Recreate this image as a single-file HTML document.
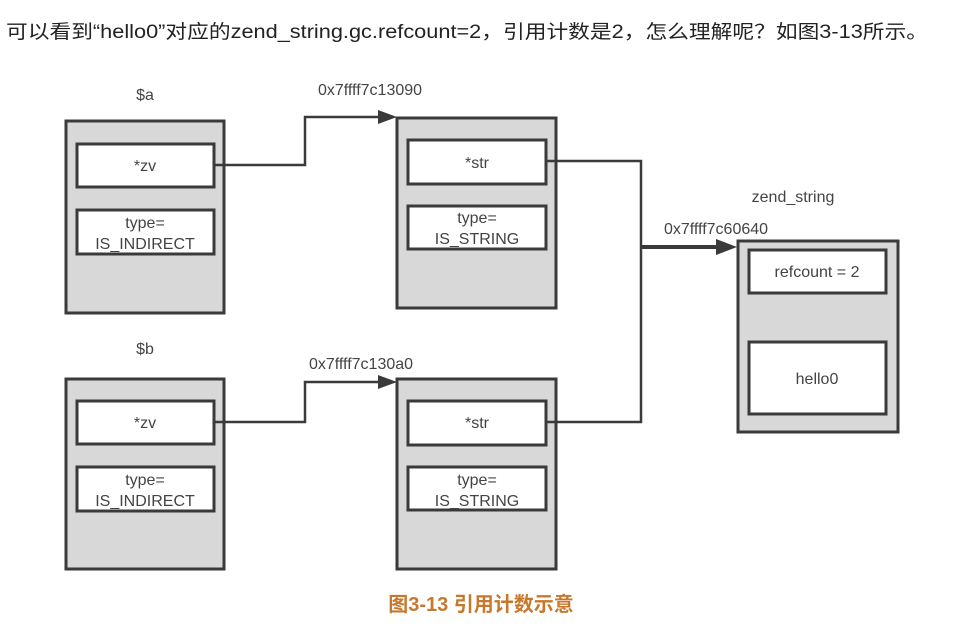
<!DOCTYPE html>
<html><head><meta charset="utf-8"><style>
body{margin:0;background:#fff;width:961px;height:630px;overflow:hidden}
svg{display:block}
.t{font-family:"Liberation Sans",sans-serif;fill:#444;font-size:16px;text-anchor:middle}
.o{fill:#d8d8d8;stroke:#3a3a3a;stroke-width:3}
.i{fill:#fff;stroke:#3a3a3a;stroke-width:3}
.l{fill:none;stroke:#3a3a3a;stroke-width:2.5}
</style></head><body>
<svg width="961" height="630" xmlns="http://www.w3.org/2000/svg">
<text x="6" y="38" textLength="922" lengthAdjust="spacingAndGlyphs" style="font-family:'Liberation Sans','Noto Sans CJK SC',sans-serif;font-size:19px;fill:#222">可以看到“hello0”对应的zend_string.gc.refcount=2，引用计数是2，怎么理解呢？如图3-13所示。</text>
<text class="t" x="145" y="100">$a</text>
<rect class="o" x="66" y="121" width="158" height="192"/>
<rect class="i" x="77" y="144" width="137" height="43"/>
<text class="t" x="145" y="171">*zv</text>
<rect class="i" x="77" y="210" width="137" height="44"/>
<text class="t" x="145" y="228">type=</text>
<text class="t" x="145" y="249">IS_INDIRECT</text>
<text class="t" x="145" y="354">$b</text>
<rect class="o" x="66" y="379" width="158" height="190"/>
<rect class="i" x="77" y="401" width="137" height="43"/>
<text class="t" x="145" y="428">*zv</text>
<rect class="i" x="77" y="467" width="137" height="44"/>
<text class="t" x="145" y="485">type=</text>
<text class="t" x="145" y="506">IS_INDIRECT</text>
<text class="t" x="370" y="95">0x7ffff7c13090</text>
<rect class="o" x="397" y="118" width="159" height="190"/>
<rect class="i" x="408" y="140" width="138" height="44"/>
<text class="t" x="477" y="168">*str</text>
<rect class="i" x="408" y="206" width="138" height="43"/>
<text class="t" x="477" y="223">type=</text>
<text class="t" x="477" y="244">IS_STRING</text>
<text class="t" x="361" y="369">0x7ffff7c130a0</text>
<rect class="o" x="397" y="379" width="159" height="190"/>
<rect class="i" x="408" y="401" width="138" height="44"/>
<text class="t" x="477" y="428">*str</text>
<rect class="i" x="408" y="467" width="138" height="43"/>
<text class="t" x="477" y="485">type=</text>
<text class="t" x="477" y="506">IS_STRING</text>
<text class="t" x="793" y="202">zend_string</text>
<text class="t" x="716" y="234">0x7ffff7c60640</text>
<rect class="o" x="738" y="241" width="160" height="191"/>
<rect class="i" x="749" y="250" width="137" height="43"/>
<text class="t" x="817" y="277">refcount = 2</text>
<rect class="i" x="749" y="342" width="137" height="72"/>
<text class="t" x="817" y="384">hello0</text>
<polyline class="l" points="214,165 305,165 305,117 382,117"/>
<polygon points="378,110 397,117 378,124" fill="#3a3a3a"/>
<polyline class="l" points="214,422 305,422 305,382 382,382"/>
<polygon points="378,375 397,382 378,389" fill="#3a3a3a"/>
<polyline class="l" points="546,161 641,161 641,422 546,422"/>
<line class="l" x1="641" y1="247" x2="722" y2="247" style="stroke-width:4"/>
<polygon points="716,239 737,247 716,255" fill="#3a3a3a"/>
<text x="481" y="611" style="font-family:'Liberation Sans','Noto Sans CJK SC',sans-serif;font-size:20px;font-weight:bold;fill:#c8782c;text-anchor:middle">图3-13 引用计数示意</text>
</svg>
</body></html>
